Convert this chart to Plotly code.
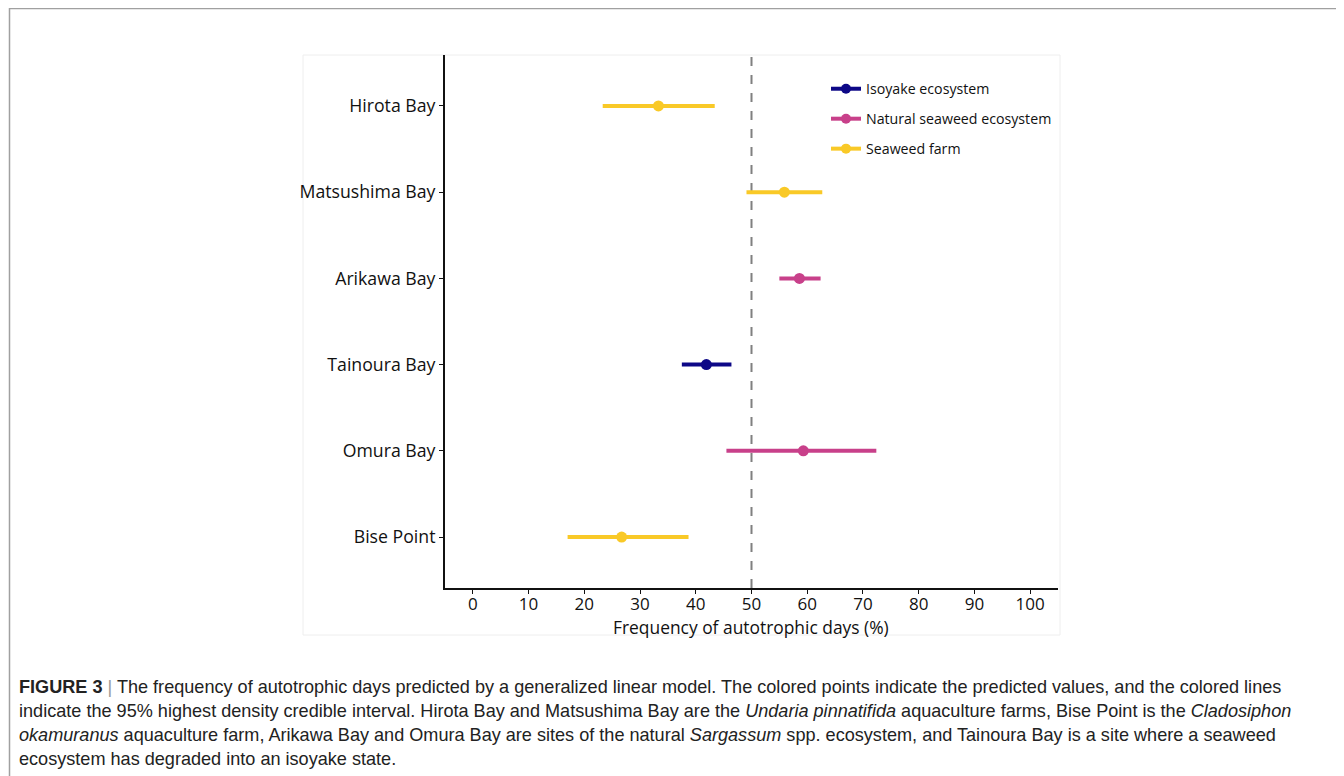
import plotly.graph_objects as go

sites = ["Hirota Bay", "Matsushima Bay", "Arikawa Bay", "Tainoura Bay", "Omura Bay", "Bise Point"]
groups = ["Seaweed farm", "Seaweed farm", "Natural seaweed ecosystem", "Isoyake ecosystem",
          "Natural seaweed ecosystem", "Seaweed farm"]
pred = [33.3, 55.9, 58.6, 41.9, 59.3, 26.7]
lower = [23.3, 49.1, 55.0, 37.5, 45.5, 17.0]
upper = [43.4, 62.7, 62.4, 46.4, 72.4, 38.7]

legend_order = ["Isoyake ecosystem", "Natural seaweed ecosystem", "Seaweed farm"]
colors = {"Isoyake ecosystem": "#0D0887",
          "Natural seaweed ecosystem": "#C8408A",
          "Seaweed farm": "#F9C927"}

x_ticks = [0, 10, 20, 30, 40, 50, 60, 70, 80, 90, 100]
threshold = 50
x_title = "Frequency of autotrophic days (%)"

caption_lines = [
    "<b>FIGURE 3</b> <span style='color:#999'>|</span> The frequency of autotrophic days predicted by a generalized linear model. The colored points indicate the predicted values, and the colored lines",
    "indicate the 95% highest density credible interval. Hirota Bay and Matsushima Bay are the <i>Undaria pinnatifida</i> aquaculture farms, Bise Point is the <i>Cladosiphon</i>",
    "<i>okamuranus</i> aquaculture farm, Arikawa Bay and Omura Bay are sites of the natural <i>Sargassum</i> spp. ecosystem, and Tainoura Bay is a site where a seaweed",
    "ecosystem has degraded into an isoyake state.",
]

# page body has an 8px margin; work in reference pixel coords shifted by OFF
OFF = 8
W, H = 1344 - OFF, 776 - OFF


def px(x):
    return (x - OFF) / W


def py(y):
    return 1 - (y - OFF) / H


fig = go.Figure()

for g in legend_order:
    idx = [i for i, gg in enumerate(groups) if gg == g]
    fig.add_trace(go.Scatter(
        x=[pred[i] for i in idx],
        y=[sites[i] for i in idx],
        mode="markers",
        marker=dict(color=colors[g], size=11),
        error_x=dict(type="data", symmetric=False,
                     array=[upper[i] - pred[i] for i in idx],
                     arrayminus=[pred[i] - lower[i] for i in idx],
                     color=colors[g], thickness=4, width=0),
        showlegend=False, hoverinfo="x+y",
    ))
    fig.add_trace(go.Scatter(
        x=[None], y=[None], mode="lines+markers", name=g,
        line=dict(color=colors[g], width=4),
        marker=dict(color=colors[g], size=10),
        legendgroup=g, showlegend=True,
    ))

fig.add_vline(x=threshold, line=dict(color="#808080", width=2, dash="dash"), layer="below")

fig.update_layout(
    width=W, height=H,
    margin=dict(l=0, r=0, t=0, b=0),
    paper_bgcolor="white", plot_bgcolor="white",
    font=dict(family="Open Sans", color="#111111"),
    xaxis=dict(domain=[px(445), px(1058)], range=[-5, 105], tickvals=x_ticks,
               showgrid=False, zeroline=False, showline=True, linecolor="#111111", linewidth=2,
               ticks="outside", ticklen=4, tickcolor="#111111", tickwidth=1,
               ticklabelstandoff=-4,
               tickfont=dict(size=17, color="#111111"),
               anchor="y"),
    yaxis=dict(domain=[py(588), py(55)], type="category", categoryorder="array", categoryarray=sites,
               range=[5.59, -0.59], showgrid=False, zeroline=False, showline=True,
               linecolor="#111111", linewidth=2,
               ticks="outside", ticklen=4, tickcolor="#111111", tickwidth=1,
               tickfont=dict(size=17.7, color="#111111"), anchor="x"),
    legend=dict(x=px(826), y=py(73), xanchor="left", yanchor="top",
                bgcolor="rgba(0,0,0,0)", font=dict(size=14.2, color="#111111"),
                tracegroupgap=8.5, itemwidth=30),
    showlegend=True,
)

fig.add_annotation(text=x_title, xref="paper", yref="paper",
                   x=(px(445) + px(1058)) / 2, y=py(627), xanchor="center", yanchor="middle",
                   showarrow=False, font=dict(size=17.4, color="#111111"))

# outer frame and inner panel border
fig.add_shape(type="rect", xref="paper", yref="paper",
              x0=px(9.5), x1=1.02, y0=-0.02, y1=py(8.5),
              line=dict(color="#a0a0a0", width=1.5), layer="below")
fig.add_shape(type="rect", xref="paper", yref="paper",
              x0=px(303), x1=px(1060), y0=py(635), y1=py(55),
              line=dict(color="#eeeeee", width=1), layer="below")

for k, line in enumerate(caption_lines):
    fig.add_annotation(text=line, xref="paper", yref="paper",
                       x=px(17), y=py(687 + 24 * k), xanchor="left", yanchor="middle",
                       showarrow=False, align="left",
                       font=dict(family="Liberation Sans", size=18.1, color="#222222"))

fig.write_html("out.html")
